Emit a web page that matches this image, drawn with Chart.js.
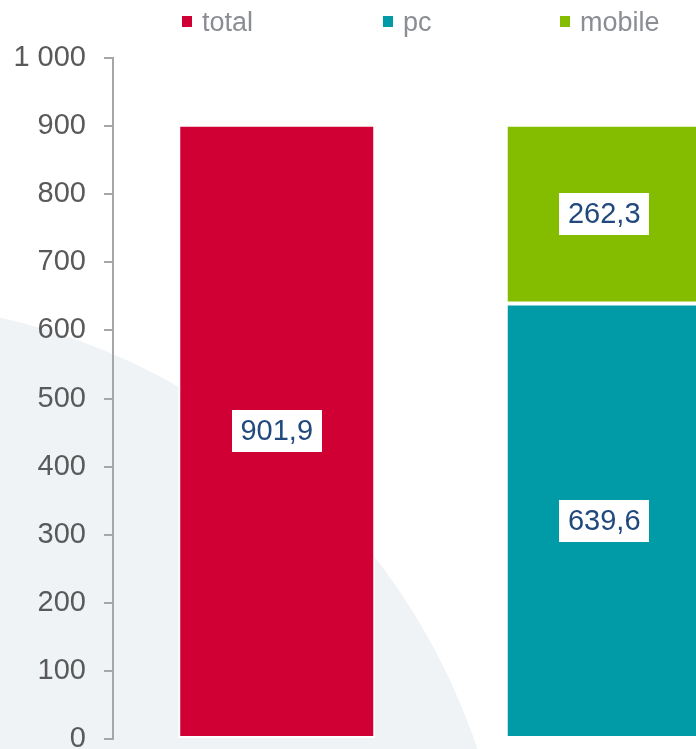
<!DOCTYPE html>
<html>
<head>
<meta charset="utf-8">
<script src="https://cdn.jsdelivr.net/npm/chart.js@4.4.0/dist/chart.umd.min.js"></script>
<style>
    html, body { margin: 0; padding: 0; background: #ffffff; }
    #wrap { position: relative; width: 696px; height: 749px; overflow: hidden; }
    #chart { position: absolute; left: 0; top: 0; }
</style>
</head>
<body>
<div id="wrap">
    <canvas id="chart" width="770" height="780"></canvas>
</div>
<script>
// chart data
const categories = ['total', 'pc + mobile'];
const seriesNames = ['total', 'pc', 'mobile'];
const seriesColors = ['#d00034', '#009ba6', '#84bd00'];
const totalValues = [901.9, null];
const pcValues = [null, 639.6];
const mobileValues = [null, 262.3];
const yTicks = [0, 100, 200, 300, 400, 500, 600, 700, 800, 900, 1000];

function formatThousands(v) {
    return String(v).replace(/\B(?=(\d{3})+(?!\d))/g, ' ');
}

function formatDecimal(v) {
    return v.toFixed(1).replace('.', ',');
}

// big light circle in the background
const backdrop = {
    id: 'backdrop',
    beforeDraw(chart) {
        const ctx = chart.ctx;
        ctx.save();
        ctx.fillStyle = '#eff3f6';
        ctx.beginPath();
        ctx.arc(-146, 959, 658, 0, Math.PI * 2);
        ctx.fill();
        ctx.restore();
    }
};

// legend drawn by hand so the item spacing matches
const legendX = [182, 383, 560];
const topLegend = {
    id: 'topLegend',
    afterDraw(chart) {
        const ctx = chart.ctx;
        ctx.save();
        ctx.font = '27px "Liberation Sans", Arial, sans-serif';
        ctx.textBaseline = 'alphabetic';
        seriesNames.forEach((name, i) => {
            const x = legendX[i];
            ctx.fillStyle = seriesColors[i];
            ctx.fillRect(x, 16, 10, 11);
            ctx.fillStyle = '#8a8e94';
            ctx.fillText(name, x + 20, 31);
        });
        ctx.restore();
    }
};

// white boxes with values in the middle of each bar
const valueBoxes = {
    id: 'valueBoxes',
    afterDatasetsDraw(chart) {
        const ctx = chart.ctx;
        ctx.save();
        ctx.font = '29px "Liberation Sans", Arial, sans-serif';
        ctx.textAlign = 'center';
        ctx.textBaseline = 'middle';
        chart.data.datasets.forEach((ds, di) => {
            const meta = chart.getDatasetMeta(di);
            meta.data.forEach((bar, i) => {
                const v = ds.data[i];
                if (v === null || v === undefined) return;
                const p = bar.getCenterPoint();
                const text = formatDecimal(v);
                const w = 90;
                const h = 42;
                ctx.fillStyle = '#ffffff';
                ctx.fillRect(Math.round(p.x - w / 2), Math.round(p.y - h / 2), w, h);
                ctx.fillStyle = '#22497d';
                ctx.fillText(text, p.x, p.y + 1);
            });
        });
        ctx.restore();
    }
};

const ctx = document.getElementById('chart');

new Chart(ctx, {
    type: 'bar',
    data: {
        labels: categories,
        datasets: [
            { label: seriesNames[0], data: totalValues, backgroundColor: seriesColors[0] },
            { label: seriesNames[1], data: pcValues, backgroundColor: seriesColors[1] },
            { label: seriesNames[2], data: mobileValues, backgroundColor: seriesColors[2] }
        ]
    },
    options: {
        responsive: false,
        animation: false,
        layout: {
            // bottom kept larger than the tick label overflow so the 0 line lands at y=739
            padding: { top: 58, right: 2, bottom: 41, left: 0 }
        },
        datasets: {
            bar: {
                borderColor: '#ffffff',
                borderWidth: 2,
                borderSkipped: false,
                categoryPercentage: 1,
                barPercentage: 0.6015
            }
        },
        plugins: {
            legend: { display: false },
            tooltip: { enabled: false }
        },
        scales: {
            x: {
                stacked: true,
                display: false
            },
            y: {
                stacked: true,
                min: 0,
                max: 1000,
                afterFit(scale) { scale.width = 113; },
                afterBuildTicks(scale) {
                    scale.ticks = yTicks.map(v => ({ value: v }));
                },
                border: { display: true, color: '#a6a6a6', width: 2 },
                grid: {
                    drawOnChartArea: false,
                    drawTicks: true,
                    tickLength: 9,
                    color: '#a6a6a6',
                    lineWidth: 2
                },
                ticks: {
                    padding: 18,
                    color: '#595959',
                    font: { family: '"Liberation Sans", Arial, sans-serif', size: 29 },
                    callback: v => formatThousands(v)
                }
            }
        }
    },
    plugins: [backdrop, topLegend, valueBoxes]
});
</script>
</body>
</html>
